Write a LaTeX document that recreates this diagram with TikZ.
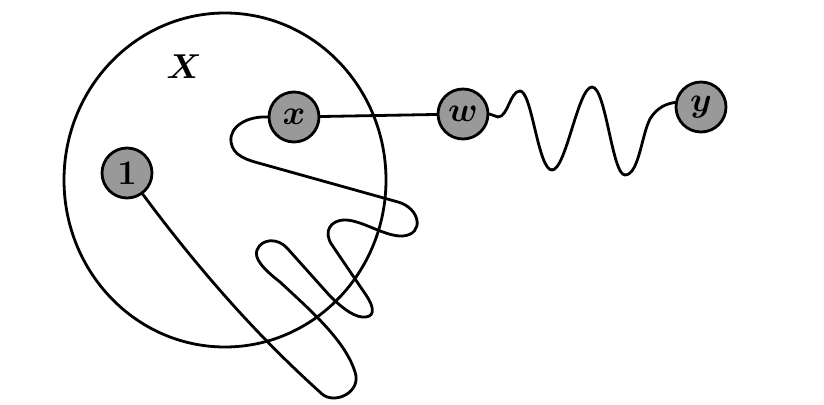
\documentclass[tikz,border=0pt]{standalone}
\usetikzlibrary{calc}
\tikzset{
 vertex/.style={circle,draw,line width=1.4pt,fill=black!40,minimum size=25pt,inner sep=0,font=\LARGE\boldmath},
 walk/.style={line width=1.4pt,line join=round,line cap=round},
 bigset/.style={line width=1.4pt},
 setlabel/.style={font=\LARGE\boldmath}
}
\begin{document}
\begin{tikzpicture}[x=0.5pt,y=-0.5pt]
\path[use as bounding box] (0,0) rectangle (824,405);
\draw[bigset] (225,180) ellipse [x radius=161,y radius=167];
\node[setlabel] (Xlab) at (184,67) {$X$};
\node[vertex] (one) at (127,173) {$1$};
\node[vertex] (x) at (294,117) {$x$};
\node[vertex] (w) at (463,114) {$w$};
\node[vertex] (y) at (701,107) {$y$};
\draw[walk] (x) -- (w);
% wavy path from w to y
\draw[walk] (w.east) -- (498,117)
 .. controls (508,117) and (510,91) .. (520,91)
 .. controls (532,91) and (538,170) .. (552,170)
 .. controls (566,170) and (578,87) .. (592,87)
 .. controls (606,87) and (612,175) .. (625,175)
 .. controls (640,175) and (642,128) .. (652,116)
 .. controls (658,108) and (665,104) .. (y.170);
% tangled path from x back to 1
\draw[walk] (x.west) .. controls (248,116) and (229,126) .. (231,142)
 .. controls (233,156) and (247,160) .. (262,164)
 -- (398,202)
 .. controls (420,208) and (425,234) .. (403,236)
 .. controls (385,237) and (362,220) .. (345,220)
 .. controls (330,220) and (323,232) .. (332,245)
 -- (366,295)
 .. controls (376,310) and (374,318) .. (362,317)
 .. controls (352,316) and (340,306) .. (330,296)
 -- (287,248)
 .. controls (278,238) and (262,238) .. (257,250)
 .. controls (254,258) and (262,268) .. (280,282)
 .. controls (310,310) and (345,340) .. (355,372)
 .. controls (362,392) and (335,405) .. (322,394)
 .. controls (290,365) and (225,305) .. (one);
\end{tikzpicture}
\end{document}
